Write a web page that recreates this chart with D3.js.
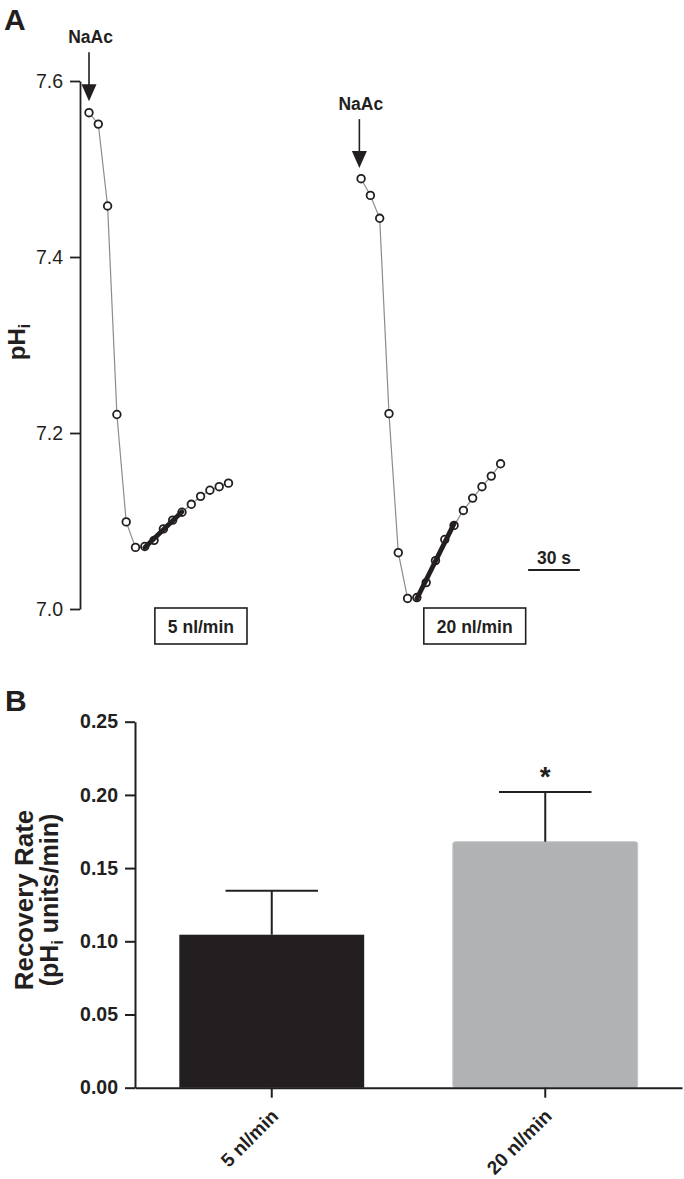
<!DOCTYPE html>
<html>
<head>
<meta charset="utf-8">
<script src="https://cdn.jsdelivr.net/npm/d3@7"></script>
<style>
    body { margin: 0; background: #fff; }
    svg { display: block; font-family: 'Liberation Sans', Arial, sans-serif; }
    .axis path, .axis line { stroke: #231f20; }
</style>
</head>
<body>
<div id="chart"></div>
<script>
// ---- panel A: pHi traces (time in s, pH values)
const traceTimes5 = [0, 5.4, 10.8, 16.2, 21.6, 27, 32.4, 37.8, 43.2, 48.6, 54, 59.4, 64.8, 70.2, 75.6, 81];
const tracePh5 = [7.564, 7.551, 7.458, 7.221, 7.099, 7.070, 7.071, 7.078, 7.091, 7.101, 7.110, 7.119, 7.128, 7.135, 7.139, 7.143];
const traceTimes20 = [158, 163.4, 168.8, 174.2, 179.6, 185, 190.4, 195.8, 201.2, 206.6, 212, 217.4, 222.8, 228.2, 233.6, 239];
const tracePh20 = [7.489, 7.470, 7.444, 7.222, 7.064, 7.012, 7.013, 7.030, 7.055, 7.079, 7.095, 7.112, 7.126, 7.139, 7.151, 7.165];
const fitRange = [6, 10];   // points used for the recovery slope
const phTicks = [7.0, 7.2, 7.4, 7.6];
const arrowTimes = [0, 157];
const arrowPh = [7.577, 7.501];
const traceLabels = ['5 nl/min', '20 nl/min'];
const traceLabelTimes = [65, 224];
const scaleBarSeconds = 30;
const scaleBarStart = 255;

// ---- panel B: recovery rate bars
const categories = ['5 nl/min', '20 nl/min'];
const rates = [0.1045, 0.168];
const sems = [0.030, 0.034];
const rateTicks = [0.00, 0.05, 0.10, 0.15, 0.20, 0.25];
const barColors = ['#231f20', '#b1b2b4'];
const significant = [false, true];

const width = 684, height = 1179;
const ink = '#231f20';

const svg = d3.select('#chart')
    .append('svg')
    .attr('width', width)
    .attr('height', height);

svg.append('rect').attr('width', width).attr('height', height).attr('fill', '#fff');

// panel letters
svg.append('text').attr('x', 4).attr('y', 30).text('A')
    .attr('font-size', 30).attr('font-weight', 'bold').attr('fill', ink);
svg.append('text').attr('x', 5).attr('y', 711).text('B')
    .attr('font-size', 30).attr('font-weight', 'bold').attr('fill', ink);

// ================= panel A
const xA = d3.scaleLinear().domain([0, 240]).range([89, 502.3]);
const yA = d3.scaleLinear().domain([7.0, 7.6]).range([609, 81]);

const axisA = svg.append('g')
    .attr('class', 'axis')
    .attr('transform', 'translate(80,0)')
    .call(d3.axisLeft(yA).tickValues(phTicks).tickFormat(d3.format('.1f'))
        .tickSize(10).tickSizeOuter(0).tickPadding(7));
axisA.select('.domain').attr('stroke-width', 1.8);
axisA.selectAll('.tick line').attr('stroke-width', 1.8);
axisA.selectAll('.tick text')
    .attr('font-size', 19.5)
    .attr('font-family', 'Liberation Sans, Arial, sans-serif')
    .attr('fill', ink);

const phLabel = svg.append('text')
    .attr('transform', 'translate(25,342) rotate(-90)')
    .attr('text-anchor', 'middle')
    .attr('font-size', 24)
    .attr('font-weight', 'bold')
    .attr('fill', ink);
phLabel.append('tspan').text('pH');
phLabel.append('tspan').text('i').attr('font-size', 16).attr('dy', 5);

const traces = [
    traceTimes5.map((t, i) => ({ t: t, ph: tracePh5[i] })),
    traceTimes20.map((t, i) => ({ t: t, ph: tracePh20[i] }))
];

const line = d3.line().x(d => xA(d.t)).y(d => yA(d.ph));

traces.forEach(trace => {
    svg.append('path')
        .datum(trace)
        .attr('d', line)
        .attr('fill', 'none')
        .attr('stroke', '#8c8c8c')
        .attr('stroke-width', 1.2);

    svg.append('g').selectAll('circle')
        .data(trace)
        .join('circle')
        .attr('cx', d => xA(d.t))
        .attr('cy', d => yA(d.ph))
        .attr('r', 3.8)
        .attr('fill', '#fff')
        .attr('stroke', ink)
        .attr('stroke-width', 1.8);

    // least squares fit over recovery points
    const pts = trace.slice(fitRange[0], fitRange[1] + 1);
    const mt = d3.mean(pts, d => d.t), mp = d3.mean(pts, d => d.ph);
    const slope = d3.sum(pts, d => (d.t - mt) * (d.ph - mp)) / d3.sum(pts, d => (d.t - mt) ** 2);
    const t0 = pts[0].t, t1 = pts[pts.length - 1].t;
    svg.append('line')
        .attr('x1', xA(t0)).attr('y1', yA(mp + slope * (t0 - mt)))
        .attr('x2', xA(t1)).attr('y2', yA(mp + slope * (t1 - mt)))
        .attr('stroke', ink)
        .attr('stroke-width', 4.8)
        .attr('stroke-linecap', 'round');
});

// NaAc arrows
arrowTimes.forEach((t, i) => {
    const ax = xA(t), tipY = yA(arrowPh[i]);
    svg.append('line')
        .attr('x1', ax).attr('x2', ax)
        .attr('y1', tipY - 49).attr('y2', tipY - 14)
        .attr('stroke', ink).attr('stroke-width', 1.6);
    svg.append('path')
        .attr('d', `M${ax - 7.5},${tipY - 17} L${ax + 7.5},${tipY - 17} L${ax},${tipY} Z`)
        .attr('fill', ink);
    svg.append('text')
        .attr('x', ax + 1.5).attr('y', tipY - 58)
        .attr('text-anchor', 'middle')
        .attr('font-size', 17.5).attr('font-weight', 'bold')
        .attr('fill', ink)
        .text('NaAc');
});

// flow-rate boxes
traceLabels.forEach((label, i) => {
    const cx = xA(traceLabelTimes[i]);
    const txt = svg.append('text')
        .attr('x', cx).attr('y', 633)
        .attr('text-anchor', 'middle')
        .attr('font-size', 17.5).attr('font-weight', 'bold')
        .attr('fill', ink)
        .text(label);
    const w = txt.node().getComputedTextLength() + 26;
    svg.insert('rect', 'text')
        .attr('x', cx - w / 2).attr('y', 608)
        .attr('width', w).attr('height', 36)
        .attr('fill', '#fff')
        .attr('stroke', ink).attr('stroke-width', 1.6);
});

// time scale bar
svg.append('line')
    .attr('x1', xA(scaleBarStart)).attr('x2', xA(scaleBarStart + scaleBarSeconds))
    .attr('y1', 570).attr('y2', 570)
    .attr('stroke', ink).attr('stroke-width', 1.8);
svg.append('text')
    .attr('x', (xA(scaleBarStart) + xA(scaleBarStart + scaleBarSeconds)) / 2)
    .attr('y', 564)
    .attr('text-anchor', 'middle')
    .attr('font-size', 17.5).attr('font-weight', 'bold')
    .attr('fill', ink)
    .text(scaleBarSeconds + ' s');

// ================= panel B
const xB = d3.scaleBand().domain(categories).range([135, 682])
    .paddingInner(0.324).paddingOuter(0.162);
const yB = d3.scaleLinear().domain([0, 0.25]).range([1087.7, 721.7]);

svg.append('g').selectAll('rect')
    .data(categories)
    .join('rect')
    .attr('x', d => xB(d))
    .attr('y', (d, i) => yB(rates[i]))
    .attr('width', xB.bandwidth())
    .attr('height', (d, i) => yB(0) - yB(rates[i]))
    .attr('rx', (d, i) => i === 1 ? 2.5 : 0)
    .attr('fill', (d, i) => barColors[i])
    .attr('stroke', (d, i) => i === 1 ? '#c4c5c7' : 'none')
    .attr('stroke-width', 1);

// error bars (upper only)
categories.forEach((c, i) => {
    const cx = xB(c) + xB.bandwidth() / 2;
    const top = yB(rates[i] + sems[i]);
    const half = xB.bandwidth() / 4;
    svg.append('line')
        .attr('x1', cx).attr('x2', cx)
        .attr('y1', yB(rates[i])).attr('y2', top)
        .attr('stroke', ink).attr('stroke-width', 2);
    svg.append('line')
        .attr('x1', cx - half).attr('x2', cx + half)
        .attr('y1', top).attr('y2', top)
        .attr('stroke', ink).attr('stroke-width', 2);
    if (significant[i]) {
        svg.append('text')
            .attr('x', cx).attr('y', top - 6)
            .attr('text-anchor', 'middle')
            .attr('font-size', 28).attr('font-weight', 'bold')
            .attr('fill', ink)
            .text('*');
    }
});

const axisBy = svg.append('g')
    .attr('class', 'axis')
    .attr('transform', 'translate(135,0)')
    .call(d3.axisLeft(yB).tickValues(rateTicks).tickFormat(d3.format('.2f'))
        .tickSize(10).tickSizeOuter(0).tickPadding(7));
axisBy.select('.domain').attr('stroke-width', 2);
axisBy.selectAll('.tick line').attr('stroke-width', 2);
axisBy.selectAll('.tick text')
    .attr('font-size', 19.5).attr('font-weight', 'bold')
    .attr('font-family', 'Liberation Sans, Arial, sans-serif')
    .attr('fill', ink);

const axisBx = svg.append('g')
    .attr('class', 'axis')
    .attr('transform', `translate(0,${yB(0)})`)
    .call(d3.axisBottom(xB).tickSize(10).tickSizeOuter(0));
axisBx.select('.domain').attr('stroke-width', 2);
axisBx.selectAll('.tick line').attr('stroke-width', 2);
axisBx.selectAll('.tick text')
    .attr('font-size', 19).attr('font-weight', 'bold')
    .attr('font-family', 'Liberation Sans, Arial, sans-serif')
    .attr('fill', ink)
    .attr('text-anchor', 'end')
    .attr('y', 0).attr('dy', '0.35em')
    .attr('transform', 'translate(3,25) rotate(-45)');

svg.append('text')
    .attr('transform', 'translate(33,900) rotate(-90)')
    .attr('text-anchor', 'middle')
    .attr('font-size', 26).attr('font-weight', 'bold')
    .attr('fill', ink)
    .text('Recovery Rate');
const rateLabel2 = svg.append('text')
    .attr('transform', 'translate(58,900) rotate(-90)')
    .attr('text-anchor', 'middle')
    .attr('font-size', 25).attr('font-weight', 'bold')
    .attr('fill', ink);
rateLabel2.append('tspan').text('(pH');
rateLabel2.append('tspan').text('i').attr('font-size', 16).attr('dy', 5);
rateLabel2.append('tspan').text(' units/min)').attr('dy', -5);
</script>
</body>
</html>
